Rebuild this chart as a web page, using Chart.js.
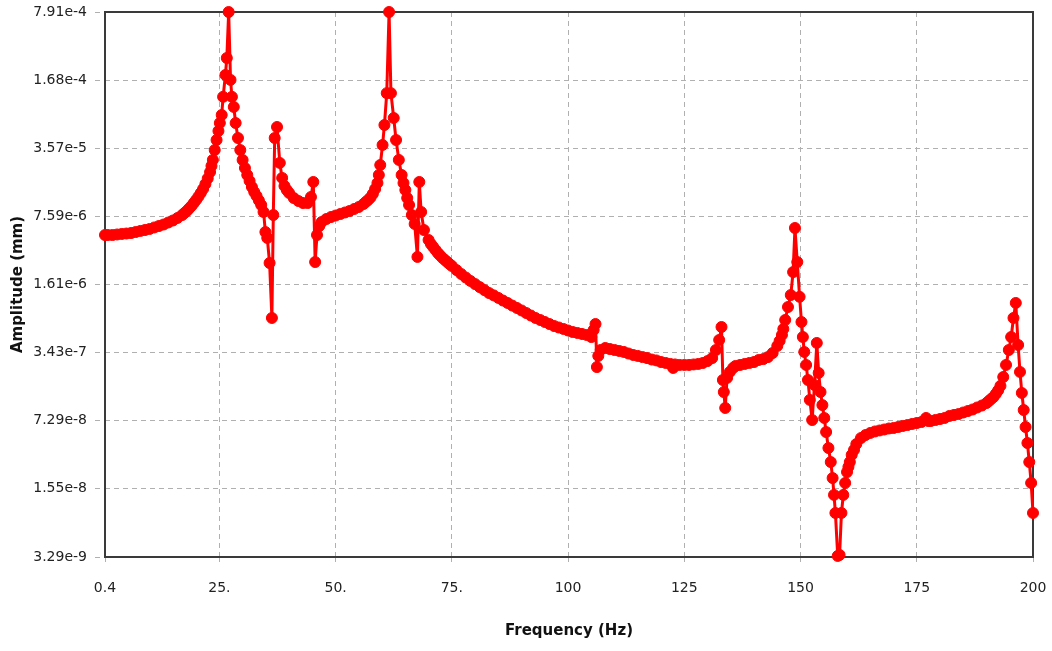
<!DOCTYPE html>
<html>
<head>
    <title>Frequency Response</title>
    <script src="https://cdn.jsdelivr.net/npm/chart.js"></script>
    <style>
        body {
            margin: 0;
            background-color: white;
        }
        .chart-container {
            position: relative;
            width: 1052px;
            height: 651px;
        }
    </style>
</head>
<body>
    <div class="chart-container">
        <canvas id="responseChart"></canvas>
    </div>

    <script>
        // frequency (Hz) and amplitude (mm)
        const freqHz = [
            0.4, 1, 2, 3, 4, 5, 6, 7, 8, 9, 10, 11, 12, 13, 14, 15, 16, 17, 17.5, 18, 18.5, 19, 19.5, 20,
            20.5, 21, 21.5, 22, 22.5, 23, 23.3, 23.6, 24.0, 24.4, 24.8, 25.1, 25.5, 25.8, 26.3, 26.6, 27.0,
            27.4, 27.7, 28.1, 28.5, 29.0, 29.5, 30, 30.5, 31, 31.5, 32, 32.5, 33, 33.5, 34, 34.5, 34.9,
            35.3, 35.8, 36.3, 36.6, 36.9, 37.4, 38.0, 38.5, 39, 39.5, 40, 41, 42, 43, 44, 44.7, 45.2,
            45.6, 46.0, 46.5, 47, 48, 49, 50, 51, 52, 53, 54, 55, 56, 56.5, 57, 57.5, 58, 58.5, 59, 59.3,
            59.6, 60.1, 60.5, 61.0, 61.5, 61.9, 62.5, 63.0, 63.6, 64.2, 64.6, 65.0, 65.4, 65.8, 66.4,
            67.0, 67.6, 68.0, 68.4, 69, 70, 70.5, 71, 71.5, 72, 72.5, 73, 73.5, 74, 74.5, 75, 76, 77,
            78, 79, 80, 81, 82, 83, 84, 85, 86, 87, 88, 89, 90, 91, 92, 93, 94, 95, 96, 97, 98, 99,
            100, 101, 102, 103, 104, 105, 105.5, 105.9, 106.2, 106.5, 107, 108, 109, 110, 111, 112,
            113, 114, 115, 116, 117, 118, 119, 120, 121, 122, 122.6, 123, 124, 125, 126, 127, 128,
            129, 130, 131, 131.8, 132.5, 133.0, 133.3, 133.5, 133.8, 134.2, 134.8, 135.5, 136, 137,
            138, 139, 140, 141, 142, 143, 144, 145, 145.5, 146, 146.3, 146.7, 147.3, 147.9, 148.4,
            148.8, 149.3, 149.8, 150.2, 150.5, 150.8, 151.2, 151.6, 152.0, 152.5, 153.0, 153.5, 153.9,
            154.3, 154.7, 155.1, 155.5, 156.0, 156.5, 156.9, 157.2, 157.5, 158.0, 158.4, 158.8, 159.2,
            159.6, 160.0, 160.3, 160.6, 161, 161.5, 162, 163, 164, 165, 166, 167, 168, 169, 170, 171,
            172, 173, 174, 175, 176, 177, 177.5, 178, 179, 180, 181, 182, 183, 184, 185, 186, 187,
            188, 189, 190, 190.5, 191, 191.5, 192, 192.5, 193, 193.6, 194.2, 194.8, 195.3, 195.8,
            196.3, 196.8, 197.2, 197.6, 198.0, 198.4, 198.8, 199.2, 199.6, 200
        ];
        const amplitudeMm = [
            4.97e-6, 4.97e-6, 4.97e-6, 5.03e-6, 5.09e-6, 5.14e-6, 5.20e-6, 5.32e-6, 5.45e-6, 5.57e-6, 5.70e-6, 5.90e-6, 6.10e-6, 6.31e-6, 6.60e-6, 6.91e-6, 7.32e-6, 7.83e-6, 8.20e-6, 8.58e-6, 9.08e-6, 9.61e-6, 1.029e-5, 1.102e-5,
            1.19e-5, 1.292e-5, 1.415e-5, 1.585e-5, 1.80e-5, 2.08e-5, 2.39e-5, 2.74e-5, 3.43e-5, 4.31e-5, 5.29e-5, 6.34e-5, 7.61e-5, 1.15e-4, 1.89e-4, 2.78e-4, 7.91e-4,
            1.69e-4, 1.15e-4, 9.13e-5, 6.34e-5, 4.51e-5, 3.43e-5, 2.74e-5, 2.28e-5, 1.945e-5, 1.70e-5, 1.48e-5, 1.32e-5, 1.207e-5, 1.09e-5, 9.83e-6, 8.39e-6, 5.32e-6,
            4.65e-6, 2.63e-6, 7.54e-7, 7.83e-6, 4.51e-5, 5.79e-5, 2.56e-5, 1.82e-5, 1.515e-5, 1.383e-5, 1.292e-5, 1.153e-5, 1.077e-5, 1.029e-5, 1.029e-5, 1.18e-5, 1.66e-5,
            2.69e-6, 4.97e-6, 6.10e-6, 6.68e-6, 7.15e-6, 7.48e-6, 7.74e-6, 8.01e-6, 8.29e-6, 8.58e-6, 8.98e-6, 9.40e-6, 1.006e-5, 1.053e-5, 1.102e-5, 1.165e-5, 1.263e-5, 1.415e-5, 1.62e-5, 1.945e-5,
            2.44e-5, 3.85e-5, 6.06e-5, 1.25e-4, 7.91e-4, 1.25e-4, 7.11e-5, 4.31e-5, 2.74e-5, 1.945e-5, 1.62e-5, 1.383e-5, 1.153e-5, 9.83e-6, 7.83e-6,
            6.39e-6, 3.02e-6, 1.66e-5, 8.39e-6, 5.57e-6, 4.44e-6, 4.05e-6, 3.78e-6, 3.53e-6, 3.30e-6, 3.12e-6, 2.95e-6, 2.82e-6, 2.69e-6, 2.57e-6, 2.46e-6, 2.24e-6, 2.05e-6,
            1.89e-6, 1.75e-6, 1.63e-6, 1.52e-6, 1.42e-6, 1.33e-6, 1.26e-6, 1.19e-6, 1.12e-6, 1.06e-6, 1.00e-6, 9.46e-7, 8.94e-7, 8.44e-7, 7.97e-7, 7.54e-7, 7.20e-7, 6.88e-7, 6.57e-7, 6.28e-7, 6.07e-7, 5.87e-7,
            5.67e-7, 5.48e-7, 5.36e-7, 5.24e-7, 5.12e-7, 4.89e-7, 5.74e-7, 6.57e-7, 2.47e-7, 3.18e-7, 3.64e-7, 3.81e-7, 3.72e-7, 3.64e-7, 3.56e-7, 3.48e-7,
            3.36e-7, 3.25e-7, 3.18e-7, 3.10e-7, 3.03e-7, 2.93e-7, 2.87e-7, 2.77e-7, 2.71e-7, 2.65e-7, 2.42e-7, 2.62e-7, 2.59e-7, 2.59e-7, 2.59e-7, 2.62e-7, 2.65e-7,
            2.71e-7, 2.83e-7, 3.03e-7, 3.64e-7, 4.57e-7, 6.14e-7, 1.84e-7, 1.40e-7, 9.74e-8, 1.93e-7, 2.21e-7, 2.42e-7, 2.53e-7, 2.59e-7,
            2.65e-7, 2.71e-7, 2.77e-7, 2.90e-7, 2.96e-7, 3.10e-7, 3.40e-7, 3.99e-7, 4.47e-7, 5.12e-7, 5.87e-7, 7.20e-7, 9.67e-7, 1.27e-6, 2.14e-6,
            5.83e-6, 2.69e-6, 1.22e-6, 6.88e-7, 4.89e-7, 3.48e-7, 2.59e-7, 1.84e-7, 1.17e-7, 7.41e-8, 1.64e-7, 4.27e-7, 2.16e-7,
            1.40e-7, 1.04e-7, 7.76e-8, 5.64e-8, 3.92e-8, 2.85e-8, 1.98e-8, 1.35e-8, 8.95e-9, 3.37e-9, 3.45e-9, 8.95e-9, 1.35e-8,
            1.77e-8, 2.27e-8, 2.55e-8, 2.85e-8, 3.35e-8, 3.75e-8, 4.29e-8, 4.92e-8, 5.27e-8, 5.52e-8, 5.71e-8, 5.84e-8, 5.97e-8, 6.11e-8, 6.18e-8, 6.32e-8,
            6.47e-8, 6.61e-8, 6.77e-8, 6.92e-8, 7.08e-8, 7.76e-8, 7.24e-8, 7.24e-8, 7.41e-8, 7.58e-8, 7.76e-8, 8.12e-8, 8.31e-8, 8.49e-8, 8.79e-8, 9.09e-8, 9.41e-8,
            9.85e-8, 1.03e-7, 1.09e-7, 1.14e-7, 1.195e-7, 1.25e-7, 1.34e-7, 1.45e-7, 1.61e-7, 1.97e-7, 2.59e-7, 3.64e-7, 4.89e-7, 7.54e-7,
            1.06e-6, 4.08e-7, 2.21e-7, 1.37e-7, 9.30e-8, 6.32e-8, 4.39e-8, 2.85e-8, 1.77e-8, 8.95e-9
        ];

        const xTickValues = [0.4, 25, 50, 75, 100, 125, 150, 175, 200];
        const xTickLabels = ['0.4', '25.', '50.', '75.', '100', '125', '150', '175', '200'];
        const yTickValues = [3.29e-9, 1.55e-8, 7.29e-8, 3.43e-7, 1.61e-6, 7.59e-6, 3.57e-5, 1.68e-4, 7.91e-4];
        const yTickLabels = ['3.29e-9', '1.55e-8', '7.29e-8', '3.43e-7', '1.61e-6', '7.59e-6', '3.57e-5', '1.68e-4', '7.91e-4'];

        // frame round the whole plot area
        const frame = {
            id: 'frame',
            beforeDatasetsDraw(chart) {
                const a = chart.chartArea;
                const ctx = chart.ctx;
                ctx.save();
                ctx.strokeStyle = '#3a3a3a';
                ctx.lineWidth = 2;
                ctx.strokeRect(a.left, a.top, a.right - a.left, a.bottom - a.top);
                ctx.restore();
            }
        };

        const ctx = document.getElementById('responseChart').getContext('2d');
        new Chart(ctx, {
            type: 'line',
            data: {
                datasets: [{
                    label: 'Amplitude',
                    data: freqHz.map((f, i) => ({ x: f, y: amplitudeMm[i] })),
                    borderColor: '#ff0000',
                    backgroundColor: '#ff0000',
                    borderWidth: 3,
                    borderJoinStyle: 'round',
                    pointRadius: 5.5,
                    pointBorderWidth: 1,
                    pointStyle: 'circle',
                    tension: 0,
                    clip: false
                }]
            },
            options: {
                responsive: true,
                maintainAspectRatio: false,
                animation: false,
                layout: {
                    padding: { top: 12, right: 19, left: 0, bottom: 0 }
                },
                plugins: {
                    legend: { display: false },
                    tooltip: { enabled: false }
                },
                scales: {
                    x: {
                        type: 'linear',
                        min: 0.4,
                        max: 200,
                        afterBuildTicks: scale => {
                            scale.ticks = xTickValues.map(v => ({ value: v }));
                        },
                        afterFit: scale => {
                            scale.height = 94;
                            scale.paddingLeft = 0;
                            scale.paddingRight = 0;
                        },
                        ticks: {
                            autoSkip: false,
                            maxRotation: 0,
                            padding: 18,
                            color: '#222',
                            font: { family: 'DejaVu Sans', size: 14 },
                            callback: (v, i) => xTickLabels[i]
                        },
                        grid: {
                            color: '#b0b0b0',
                            lineWidth: 1,
                            tickLength: 5,
                            tickBorderDash: [5, 4]
                        },
                        border: { display: false, dash: [5, 4] },
                        title: {
                            display: true,
                            text: 'Frequency (Hz)',
                            color: '#111',
                            font: { family: 'DejaVu Sans', size: 15, weight: 'bold' },
                            padding: { top: 0, bottom: 11 }
                        }
                    },
                    y: {
                        type: 'logarithmic',
                        min: 3.29e-9,
                        max: 7.91e-4,
                        afterBuildTicks: scale => {
                            scale.ticks = yTickValues.map(v => ({ value: v }));
                        },
                        afterFit: scale => {
                            scale.width = 105;
                            scale.paddingTop = 0;
                            scale.paddingBottom = 0;
                        },
                        ticks: {
                            autoSkip: false,
                            padding: 8,
                            color: '#222',
                            font: { family: 'DejaVu Sans', size: 14 },
                            callback: (v, i) => yTickLabels[i]
                        },
                        grid: {
                            color: '#b0b0b0',
                            lineWidth: 1,
                            tickLength: 10,
                            tickBorderDash: [5, 4]
                        },
                        border: { display: false, dash: [5, 4] },
                        title: {
                            display: true,
                            text: 'Amplitude (mm)',
                            color: '#111',
                            font: { family: 'DejaVu Sans', size: 15, weight: 'bold' },
                            padding: { top: 9, bottom: 0 }
                        }
                    }
                }
            },
            plugins: [frame]
        });
    </script>
</body>
</html>
